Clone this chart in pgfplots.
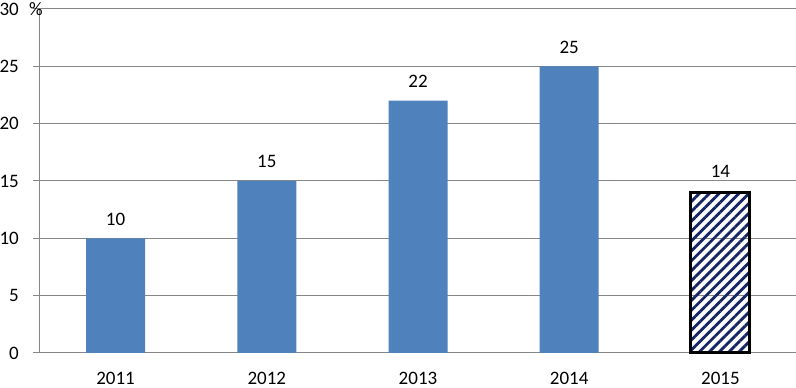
\documentclass[border=0pt]{standalone}
\usepackage{pgfplots}
\pgfplotsset{compat=1.18}
\usepackage{fontspec}
\setmainfont{Carlito}
\usetikzlibrary{patterns.meta}
\definecolor{barblue}{RGB}{79,129,189}
\definecolor{gridgray}{RGB}{134,134,134}
\definecolor{hatch}{RGB}{20,36,100}
\begin{document}
\fontsize{19}{22}\selectfont
\begin{tikzpicture}
\path[use as bounding box] (0,0) rectangle (796pt,388pt);
\begin{axis}[
 at={(40pt,35pt)}, anchor=south west,
 scale only axis, width=756pt, height=344pt,
 xmin=-0.5, xmax=4.5, ymin=0, ymax=30,
 ytick={0,5,...,30}, xtick={0,...,4},
 xticklabels={2011,2012,2013,2014,2015},
 ymajorgrids, grid style={gridgray, line width=1pt},
 axis x line*=bottom, axis y line*=left,
 axis line style={gridgray, line width=1pt, -},
 ytick style={gridgray, line width=1pt},
 tick align=outside, major tick length=7pt,
 xtick style={draw=none},
 /pgf/number format/assume math mode=true,
 tick label style={font=\fontsize{19}{22}\selectfont},
 yticklabel style={anchor=east, inner sep=0pt, xshift=-14pt},
 xticklabel style={anchor=north, inner sep=0pt, yshift=-12pt},
 ybar, bar width=59pt, bar shift=0pt,
 nodes near coords,
 nodes near coords style={anchor=south, inner sep=0pt, yshift=13pt, font=\fontsize{19}{22}\selectfont, text=black},
 clip=false,
]
\addplot[fill=barblue, draw=none] coordinates {(0,10) (1,15) (2,22) (3,25)};
\addplot[draw=black, line width=3pt, pattern={Lines[angle=45,distance=7pt,line width=2.8pt]}, pattern color=hatch] coordinates {(4,14)};
\node[anchor=west, inner sep=0pt] at ([xshift=-11pt]rel axis cs:0,1) {\%};
\end{axis}
\end{tikzpicture}
\end{document}
